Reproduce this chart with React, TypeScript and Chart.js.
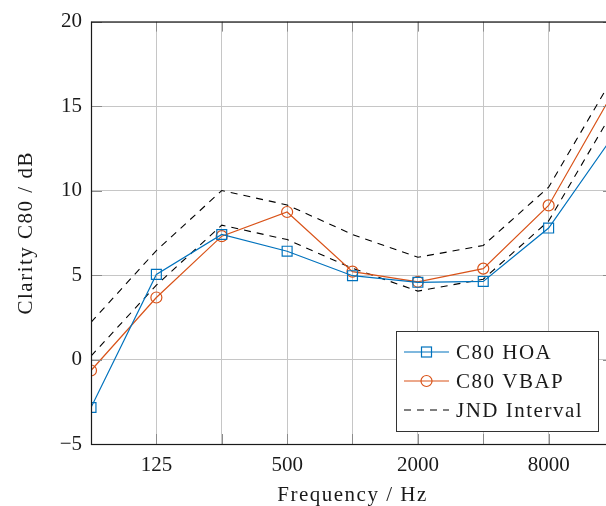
import React, { useEffect, useRef } from 'react';
import { Chart, registerables } from 'chart.js';
Chart.register(...registerables);

const frequencies = [62.5, 125, 250, 500, 1000, 2000, 4000, 8000, 16000];
const xTickLabels = ['', '125', '', '500', '', '2000', '', '8000', ''];
const yTicks = [-5, 0, 5, 10, 15, 20];
const hoa = [-2.84, 5.04, 7.4, 6.41, 4.96, 4.57, 4.62, 7.78, 13.3];
const vbap = [-0.65, 3.67, 7.3, 8.73, 5.2, 4.6, 5.38, 9.12, 15.9];
const jndUpper = [2.2, 6.45, 10.0, 9.15, 7.4, 6.05, 6.75, 10.2, 16.8];
const jndLower = [0.2, 4.4, 7.95, 7.1, 5.4, 4.05, 4.75, 8.2, 14.8];
const legendLabels = ['C80 HOA', 'C80 VBAP', 'JND Interval'];
const xTitle = 'Frequency / Hz';
const yTitle = 'Clarity C80 / dB';

const BLUE = '#0072BD';
const ORANGE = '#D95319';
const TEXT = '#1a1a1a';
const FONT = "'Liberation Serif', 'Times New Roman', serif";
const W = 630;
const H = 506;
const PLOT_LEFT = 91;
const PLOT_TOP = 19;
const PLOT_RIGHT = 614;
const PLOT_BOTTOM = 444;

export default function App() {
  const ref = useRef<HTMLCanvasElement>(null);
  useEffect(() => {
    const canvas = ref.current!;
    const pts = (arr: number[]) => frequencies.map((f, i) => ({ x: f, y: arr[i] }));
    const framePlugin = {
      id: 'frameLegend',
      afterDraw(chart: any) {
        const { ctx, chartArea: a, scales } = chart;
        ctx.save();
        // inner ticks
        ctx.strokeStyle = '#8c8c8c';
        ctx.lineWidth = 1;
        ctx.beginPath();
        frequencies.forEach((f) => {
          const x = Math.round(scales.x.getPixelForValue(f)) + 0.5;
          ctx.moveTo(x, a.top);
          ctx.lineTo(x, a.top + 10);
          ctx.moveTo(x, a.bottom);
          ctx.lineTo(x, a.bottom - 10);
        });
        yTicks.forEach((v) => {
          const y = Math.round(scales.y.getPixelForValue(v)) + 0.5;
          ctx.moveTo(a.left, y);
          ctx.lineTo(a.left + 11, y);
          ctx.moveTo(a.right, y);
          ctx.lineTo(a.right - 11, y);
        });
        ctx.stroke();
        // frame
        ctx.strokeStyle = '#1a1a1a';
        ctx.lineWidth = 1.2;
        ctx.strokeRect(a.left + 0.5, a.top + 0.5, a.right - a.left, a.bottom - a.top);

        // axis titles
        ctx.fillStyle = TEXT;
        ctx.font = `21px ${FONT}`;
        (ctx as any).letterSpacing = '1.5px';
        ctx.textAlign = 'center';
        ctx.textBaseline = 'alphabetic';
        ctx.fillText(xTitle, (a.left + a.right) / 2, 501);
        ctx.save();
        ctx.translate(32, (a.top + a.bottom) / 2);
        ctx.rotate(-Math.PI / 2);
        ctx.fillText(yTitle, 0, 0);
        ctx.restore();

        // legend
        const bx = 396.5, by = 331.5, bw = 202, bh = 100;
        ctx.fillStyle = '#ffffff';
        ctx.fillRect(bx, by, bw, bh);
        ctx.strokeStyle = '#333333';
        ctx.lineWidth = 1;
        ctx.strokeRect(bx, by, bw, bh);
        const rows = [352, 381, 410];
        const x0 = 404, x1 = 449, mx = 426.5;
        ctx.lineWidth = 1.2;
        ctx.strokeStyle = BLUE;
        ctx.beginPath();
        ctx.moveTo(x0, rows[0]);
        ctx.lineTo(x1, rows[0]);
        ctx.stroke();
        ctx.strokeRect(mx - 5, rows[0] - 5, 10, 10);
        ctx.strokeStyle = ORANGE;
        ctx.beginPath();
        ctx.moveTo(x0, rows[1]);
        ctx.lineTo(x1, rows[1]);
        ctx.stroke();
        ctx.beginPath();
        ctx.arc(mx, rows[1], 5.5, 0, Math.PI * 2);
        ctx.stroke();
        ctx.strokeStyle = '#000000';
        ctx.setLineDash([7, 6]);
        ctx.beginPath();
        ctx.moveTo(x0, rows[2]);
        ctx.lineTo(x1, rows[2]);
        ctx.stroke();
        ctx.setLineDash([]);
        ctx.fillStyle = TEXT;
        ctx.textBaseline = 'alphabetic';
        ctx.textAlign = 'left';
        legendLabels.forEach((t, i) => ctx.fillText(t, 456, rows[i] + 7));
        (ctx as any).letterSpacing = '0px';
        ctx.restore();
      },
    };

    const chart = new Chart(canvas, {
      type: 'line',
      data: {
        datasets: [
          {
            label: legendLabels[0],
            data: pts(hoa),
            borderColor: BLUE,
            backgroundColor: 'rgba(0,0,0,0)',
            borderWidth: 1.2,
            pointStyle: 'rect',
            pointRadius: 7,
            pointBorderWidth: 1.2,
            pointBorderColor: BLUE,
            pointBackgroundColor: 'rgba(0,0,0,0)',
            tension: 0,
          },
          {
            label: legendLabels[1],
            data: pts(vbap),
            borderColor: ORANGE,
            backgroundColor: 'rgba(0,0,0,0)',
            borderWidth: 1.2,
            pointStyle: 'circle',
            pointRadius: 5.5,
            pointBorderWidth: 1.2,
            pointBorderColor: ORANGE,
            pointBackgroundColor: 'rgba(0,0,0,0)',
            tension: 0,
          },
          {
            label: legendLabels[2],
            data: pts(jndUpper),
            borderColor: '#000000',
            borderWidth: 1.1,
            borderDash: [7, 6],
            pointRadius: 0,
            tension: 0,
          },
          {
            label: legendLabels[2] + ' (lower)',
            data: pts(jndLower),
            borderColor: '#000000',
            borderWidth: 1.1,
            borderDash: [7, 6],
            pointRadius: 0,
            tension: 0,
          },
        ],
      },
      options: {
        animation: false,
        responsive: false,
        maintainAspectRatio: false,
        devicePixelRatio: 1,
        layout: { padding: { left: 0, top: PLOT_TOP, right: W - PLOT_RIGHT, bottom: 0 } },
        plugins: { legend: { display: false }, tooltip: { enabled: false }, title: { display: false } },
        scales: {
          x: {
            type: 'logarithmic',
            min: 62.5,
            max: 16000,
            afterBuildTicks: (scale: any) => {
              scale.ticks = frequencies.map((v) => ({ value: v }));
            },
            afterFit: (scale: any) => {
              scale.height = H - PLOT_BOTTOM;
            },
            ticks: {
              autoSkip: false,
              maxRotation: 0,
              padding: 9,
              color: TEXT,
              font: { family: FONT, size: 21 },
              callback: (value: any) => {
                const i = frequencies.indexOf(Number(value));
                return i >= 0 ? xTickLabels[i] : '';
              },
            },
            grid: { color: '#c6c6c6', lineWidth: 1, drawTicks: false },
            border: { display: false },
            title: { display: false },
          },
          y: {
            type: 'linear',
            min: -5,
            max: 20,
            afterBuildTicks: (scale: any) => {
              scale.ticks = yTicks.map((v) => ({ value: v }));
            },
            afterFit: (scale: any) => {
              scale.width = PLOT_LEFT;
            },
            ticks: {
              padding: 9,
              color: TEXT,
              font: { family: FONT, size: 21 },
              callback: (value: any) => (Number(value) < 0 ? '\u2212' + Math.abs(Number(value)) : String(value)),
            },
            grid: { color: '#c6c6c6', lineWidth: 1, drawTicks: false },
            border: { display: false },
            title: { display: false },
          },
        },
      },
      plugins: [framePlugin],
    });
    return () => chart.destroy();
  }, []);

  return (
    <div style={{ position: 'fixed', left: 0, top: 0, width: 606, height: 506, overflow: 'hidden', background: '#fff' }}>
      <canvas ref={ref} width={W} height={H} style={{ display: 'block', width: W, height: H }} />
    </div>
  );
}
